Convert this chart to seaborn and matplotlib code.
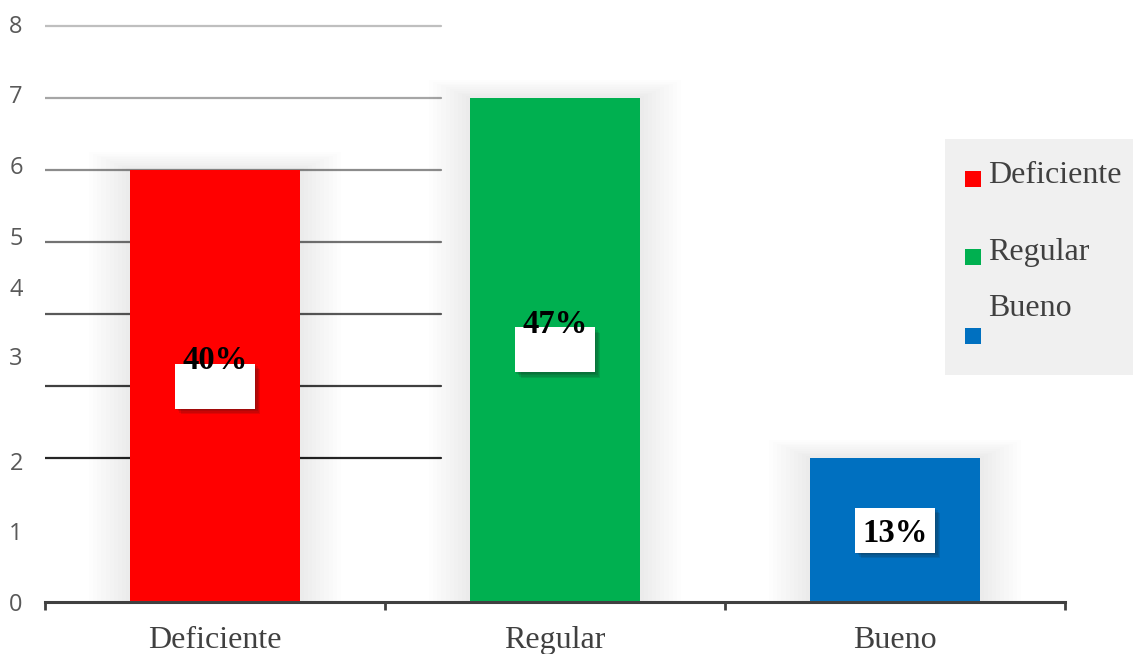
import matplotlib.pyplot as plt
import matplotlib.patheffects as pe
from matplotlib.patches import Rectangle
import seaborn as sns
import pandas as pd

# datos del grafico
categorias = ['Deficiente', 'Regular', 'Bueno']
cantidades = [6, 7, 2]
colores = ['#ff0000', '#00b050', '#0070c0']
etiquetas_y = ['0', '1', '2', '3', '4', '5', '6', '7', '8']
lineas_y = [2, 3, 4, 5, 6, 7, 8]

# layout (pixeles de la imagen original)
W, H = 1133, 654
pos_etiquetas_y = [0, 0.99, 1.96, 3.42, 4.38, 5.08, 6.07, 7.06, 8.03]
grises = ['#262626', '#404040', '#595959', '#737373', '#8c8c8c', '#a6a6a6', '#bfbfbf']
subida_texto = [0.4, 0.4, 0.0]

sns.set_theme(style='white')
plt.rcParams['font.family'] = ['Liberation Serif', 'DejaVu Serif']

fig = plt.figure(figsize=(W / 100, H / 100), dpi=100)
ax = fig.add_axes([45 / W, 52 / H, 1020 / W, 583.2 / H])

df = pd.DataFrame({'categoria': categorias, 'cantidad': cantidades})
total = sum(cantidades)

# sombra suave alrededor de las barras
for k in range(1, 11):
    ax.bar(range(len(categorias)), [v + 0.025 * k for v in cantidades],
           width=0.5 + 0.024 * k, color='k', alpha=0.009, linewidth=0, zorder=1)

# lineas horizontales (solo en el primer tercio)
for y, c in zip(lineas_y, grises):
    ax.axhline(y, xmin=0, xmax=396 / 1020, color=c, lw=1.6, zorder=0.5)

sns.barplot(data=df, x='categoria', y='cantidad', hue='categoria', palette=colores,
            legend=False, width=0.5, saturation=1, linewidth=0, ax=ax, zorder=3)

ax.set_xlim(-0.5, 2.5)
ax.set_ylim(0, 8.1)
ax.set_xlabel('')
ax.set_ylabel('')

for s in ['top', 'right', 'left']:
    ax.spines[s].set_visible(False)
ax.spines['bottom'].set_color('#404040')
ax.spines['bottom'].set_linewidth(2.2)
ax.spines['bottom'].set_zorder(4)

ax.set_xticks([-0.5, 0.5, 1.5, 2.5], minor=True)
ax.tick_params(axis='x', which='minor', bottom=True, direction='out', length=6,
               width=2, color='#404040')
ax.tick_params(axis='x', which='major', length=0, pad=17, labelsize=23,
               labelcolor='#404040')

ax.set_yticks(pos_etiquetas_y, etiquetas_y)
ax.tick_params(axis='y', length=0, pad=16, labelsize=17, labelcolor='#595959')
for t in ax.get_yticklabels():
    t.set_fontfamily('Open Sans')

# etiquetas de porcentaje con caja blanca
sombra = [pe.SimplePatchShadow(offset=(1 + d, -1 - d), shadow_rgbFace='k', alpha=0.12)
          for d in (3, 2, 1, 0)]
for i, v in enumerate(cantidades):
    caja = Rectangle((i - 0.1176, v / 2 - 0.3125), 0.235, 0.625, fc='white', ec='none',
                     zorder=4, path_effects=sombra + [pe.Normal()])
    ax.add_patch(caja)
    ax.text(i, v / 2 + subida_texto[i], f'{round(100 * v / total)}%', ha='center',
            va='center_baseline', fontsize=23.5, fontweight='bold', color='black', zorder=5)

# leyenda manual
fig.patches.append(Rectangle((945 / W, 1 - 375 / H), 188 / W, 236 / H, fc='#f0f0f0',
                             ec='none', transform=fig.transFigure, zorder=0))
cuadro_y = [171, 249, 328]
texto_y = [183, 260, 316]
for cat, col, cy, ty in zip(categorias, colores, cuadro_y, texto_y):
    fig.patches.append(Rectangle((965 / W, 1 - (cy + 16) / H), 16 / W, 16 / H, fc=col,
                                 ec='none', transform=fig.transFigure, zorder=1))
    fig.text(988 / W, 1 - ty / H, cat, fontsize=23, color='#404040', va='baseline')

fig.savefig('out.png', dpi=100)
